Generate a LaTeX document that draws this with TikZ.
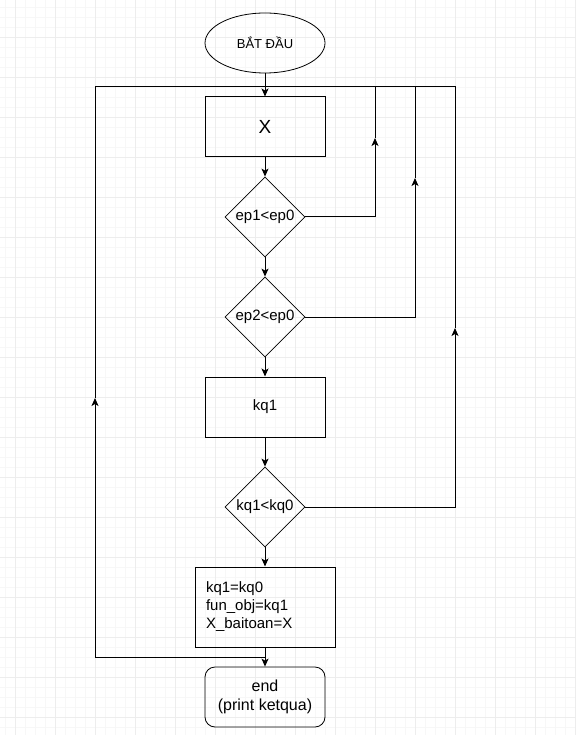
\documentclass[tikz,border=0pt]{standalone}
\usepackage{fontspec}
\setmainfont{Liberation Sans}
\usetikzlibrary{shapes.geometric, arrows.meta, positioning, calc}

\begin{document}
\begin{tikzpicture}[
    x=1pt, y=-1pt,
    font=\fontsize{15}{18}\selectfont,
    line width=1pt,
    startstop/.style={ellipse, draw, line width=0.8pt, minimum width=120pt,
                      minimum height=60pt, inner sep=0pt,
                      font=\fontsize{13}{15}\selectfont},
    process/.style={rectangle, draw, minimum width=120pt, minimum height=60pt,
                    inner sep=0pt, text centered},
    decision/.style={diamond, draw, line width=0.8pt, aspect=1,
                     minimum width=80pt, minimum height=80pt, inner sep=0pt},
    assign/.style={rectangle, draw, minimum height=80pt, text width=118pt,
                   inner xsep=11pt, align=left},
    endbox/.style={rectangle, rounded corners=10pt, draw, line width=0.8pt,
                   minimum width=120pt, minimum height=60pt,
                   font=\fontsize{16}{19}\selectfont},
    arr/.style={-{Stealth[length=8pt, width=7pt, inset=2pt]}},
    minorgrid/.style={draw=black!3, line width=0.5pt},
    majorgrid/.style={draw=black!7, line width=0.8pt},
    every node/.style={align=center}
  ]

  \useasboundingbox (0,0) rectangle (575,735);

  % background grid
  \foreach \gx in {5,15,...,575} \draw[minorgrid] (\gx,0) -- (\gx,735);
  \foreach \gy in {7,17,...,735} \draw[minorgrid] (0,\gy) -- (575,\gy);
  \foreach \gx in {15,55,...,575} \draw[majorgrid] (\gx,0) -- (\gx,735);
  \foreach \gy in {37,77,...,735} \draw[majorgrid] (0,\gy) -- (575,\gy);

  \node[startstop] (start) at (265,43)  {BẮT ĐẦU};
  \node[process, font=\fontsize{19}{22}\selectfont] (x) at (265,127) {X};
  \node[decision]  (ep1)   at (265,217) {ep1<ep0};
  \node[decision]  (ep2)   at (265,317) {ep2<ep0};
  \node[process]   (kq1)   at (265,407) {kq1};
  \node[decision]  (cmp)   at (265,507) {kq1<kq0};
  \node[assign]    (upd)   at (265,607) {kq1=kq0\\fun\_obj=kq1\\X\_baitoan=X};
  \node[endbox]    (stop)  at (265,697) {end\\ (print ketqua)};

  % bends of the loops
  \coordinate (top) at (265,87);
  \coordinate (tl)  at (95,87);
  \coordinate (ml)  at (95,398);
  \coordinate (bl)  at (95,657);
  \coordinate (t1)  at (375,87);
  \coordinate (m1)  at (375,138);
  \coordinate (t2)  at (415,87);
  \coordinate (m2)  at (415,178);
  \coordinate (t3)  at (455,87);
  \coordinate (m3)  at (455,328);

  % Main flow arrows
  \draw[arr] (start) -- (x);
  \draw[arr] (x)     -- (ep1);
  \draw[arr] (ep1)   -- (ep2);
  \draw[arr] (ep2)   -- (kq1);
  \draw[arr] (kq1)   -- (cmp);
  \draw[arr] (cmp)   -- (upd);
  \draw[arr] (upd)   -- (stop);

  % Loops back to X
  \draw[arr] (upd.south) |- (bl) -- (ml);
  \draw (ml) -- (tl) -- (top);
  \draw[arr] (ep1.east) -| (m1);
  \draw (m1) -- (t1) -- (top);
  \draw[arr] (ep2.east) -| (m2);
  \draw (m2) -- (t2) -- (t1);
  \draw[arr] (cmp.east) -| (m3);
  \draw (m3) -- (t3) -- (t2);

\end{tikzpicture}
\end{document}
